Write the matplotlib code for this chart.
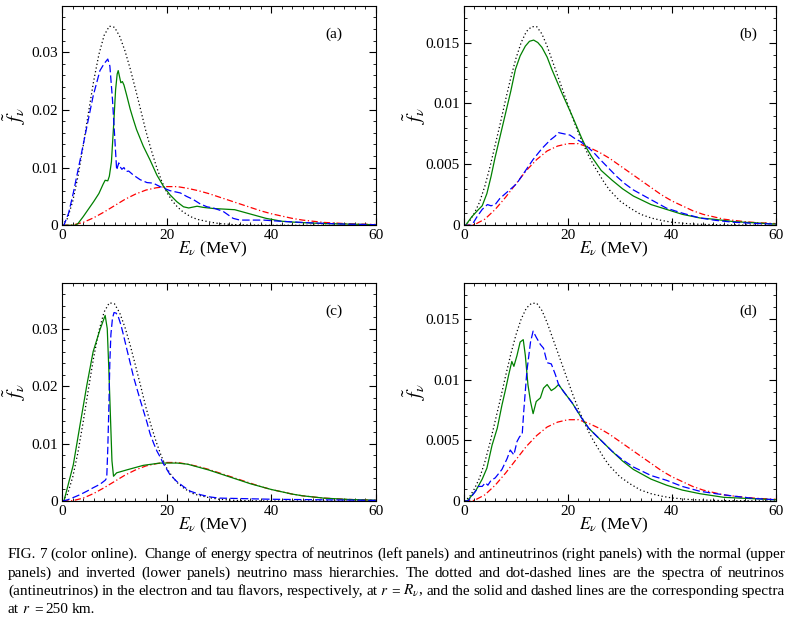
import numpy as np
import matplotlib
matplotlib.use("Agg")
import matplotlib.pyplot as plt
from matplotlib.ticker import MultipleLocator, FuncFormatter

# --- spectra (E in MeV, f~ per MeV) ---
# initial nu_e (left) and anti-nu_e (right) at r = R_nu : dotted
e_nue = [0, 1, 2, 3, 4, 5, 6, 7, 8, 9, 10, 11, 12, 13, 14, 15, 16, 17, 18, 19, 20,
         21, 22, 23, 24, 25, 26, 28, 30, 33, 36, 40, 60]
f_nue = [0, 0.0012, 0.0042, 0.0085, 0.0138, 0.0195, 0.0250, 0.0296, 0.0329, 0.0345,
         0.0343, 0.0327, 0.0302, 0.0271, 0.0236, 0.0200, 0.0163, 0.0131, 0.0102, 0.0077,
         0.0057, 0.0043, 0.0032, 0.0024, 0.0018, 0.0013, 0.0010, 0.0006, 0.0003, 0.0001,
         0.00004, 0, 0]
e_nuebar = [0, 1, 2, 3, 4, 5, 6, 7, 8, 9, 10, 11, 12, 13, 14, 15, 16, 17, 18, 19, 20,
            21, 22, 23, 24, 25, 26, 27, 28, 30, 32, 34, 36, 38, 40, 44, 50, 60]
f_nuebar = [0, 0.0003, 0.0010, 0.0019, 0.0032, 0.0048, 0.0066, 0.0084, 0.0103, 0.0121,
            0.0137, 0.0150, 0.0159, 0.0163, 0.0163, 0.0157, 0.0147, 0.0135, 0.0123, 0.0111,
            0.0099, 0.0087, 0.0076, 0.0066, 0.0057, 0.0049, 0.0042, 0.0035, 0.0029, 0.0020,
            0.0014, 0.0009, 0.0006, 0.0004, 0.00025, 0.0001, 0.00003, 0]
# tau flavour at r = R_nu : dot-dashed (same in all panels)
e_tau = [0, 2, 4, 6, 8, 10, 12, 14, 16, 18, 20, 22, 24, 26, 28, 30, 32, 34, 36, 38, 40,
         42, 44, 46, 48, 50, 52, 54, 56, 58, 60]
f_tau = [0, 0.00005, 0.0005, 0.0013, 0.0023, 0.0034, 0.0045, 0.0054, 0.0061, 0.0065,
         0.0067, 0.0067, 0.0064, 0.0060, 0.0055, 0.0049, 0.0043, 0.0037, 0.0031, 0.0025,
         0.0020, 0.0016, 0.0012, 0.0009, 0.0007, 0.0005, 0.0004, 0.0003, 0.00023,
         0.00018, 0.00014]

# (a) normal hierarchy, neutrinos, r = 250 km
e_a_sol = [0, 2.5, 3, 4, 5, 6, 7, 7.8, 8.2, 8.7, 9.0, 9.4, 9.8, 10.2, 10.5, 10.7, 11.2,
           11.5, 11.8, 12.3, 13.0, 13.6, 14.2, 15.5, 16.8, 18.1, 19.4, 20.6, 21.9, 23.2,
           24.2, 25.8, 27.0, 29, 31, 33, 35, 37, 39, 42, 45, 50, 55, 60]
f_a_sol = [0, 0, 0.0003, 0.0015, 0.0028, 0.0041, 0.0055, 0.0071, 0.0078, 0.0077, 0.0085,
           0.0110, 0.0170, 0.0235, 0.0262, 0.0268, 0.0247, 0.0249, 0.0243, 0.0226, 0.0201,
           0.0183, 0.0166, 0.0137, 0.0113, 0.0087, 0.0067, 0.0053, 0.0041, 0.0032, 0.0030,
           0.0033, 0.0031, 0.0029, 0.0028, 0.0027, 0.0022, 0.0017, 0.0012, 0.0007, 0.0005,
           0.0003, 0.0002, 0.0001]
e_a_dash = [0, 0.3, 1.2, 2.1, 3.4, 4.7, 5.9, 7.2, 8.0, 8.7, 9.1, 9.6, 10.1, 10.4, 10.8,
            11.1, 11.4, 11.8, 12.2, 12.7, 13.6, 14.9, 16.2, 17.4, 18.7, 20.6, 22.6, 23.8,
            25.0, 26.4, 27.7, 28.9, 30.8, 32.7, 34.0, 38.5, 41.7, 48, 54, 60]
f_a_dash = [0, 0, 0.0021, 0.0056, 0.0113, 0.0171, 0.0224, 0.0268, 0.0280, 0.0288, 0.0276,
            0.0218, 0.0142, 0.0096, 0.0108, 0.0101, 0.0097, 0.0100, 0.0093, 0.0094, 0.0087,
            0.0079, 0.0074, 0.0073, 0.0067, 0.0060, 0.0056, 0.0050, 0.0045, 0.0037, 0.0032,
            0.0030, 0.0024, 0.0012, 0.0009, 0.0009, 0.0007, 0.0004, 0.0002, 0.0001]

# (b) normal hierarchy, antineutrinos
e_b_sol = [0, 0.3, 1.5, 2.8, 3.5, 4.4, 5.2, 6.0, 7.0, 8.0, 9.0, 9.9, 10.8, 11.8, 12.6,
           13.4, 14.2, 15.0, 16.0, 16.9, 18.9, 20.8, 22.7, 23.5, 24.6, 26.4, 28.5, 30.5,
           32.6, 36, 39, 42, 45.4, 48, 51.9, 56, 60]
f_b_sol = [0, 0, 0.0007, 0.0013, 0.0016, 0.0026, 0.0040, 0.0056, 0.0074, 0.0092, 0.0110,
           0.0128, 0.0139, 0.0147, 0.0151, 0.0152, 0.0150, 0.0146, 0.0138, 0.0128, 0.0108,
           0.0090, 0.0071, 0.0064, 0.0056, 0.0045, 0.0037, 0.0030, 0.0024, 0.0017, 0.0013,
           0.0009, 0.0006, 0.0005, 0.0003, 0.0002, 0.0001]
e_b_dash = [0, 1.5, 2.5, 3.5, 4.5, 5.2, 6.0, 6.9, 8.5, 10.1, 11.7, 13.3, 15.0, 16.6, 17.5,
            18.2, 19.3, 20.4, 21.4, 22.3, 23.6, 24.9, 26.2, 27.8, 29.4, 31, 32.6, 36, 39,
            42, 45.4, 48.5, 51.9, 56, 60]
f_b_dash = [0, 0, 0.0007, 0.0013, 0.0017, 0.0016, 0.0017, 0.0022, 0.0028, 0.0034, 0.0044,
            0.0054, 0.0063, 0.0070, 0.0073, 0.0076, 0.0075, 0.0074, 0.0071, 0.0069, 0.0065,
            0.0060, 0.0054, 0.0047, 0.0040, 0.0034, 0.0029, 0.0021, 0.0014, 0.0010, 0.0006,
            0.0004, 0.00025, 0.00015, 0.0001]

# (c) inverted hierarchy, neutrinos
e_c_sol = [0, 0.3, 0.8, 2.1, 3.4, 4.7, 5.9, 7.2, 8.2, 8.6, 8.9, 9.2, 9.5, 9.8, 10.4, 12.3,
           15.5, 18.7, 20.6, 22, 24, 26, 28, 30, 32, 34, 36, 38, 40, 42, 44, 46, 48, 50,
           52, 54, 56, 58, 60]
f_c_sol = [0, 0, 0.0017, 0.0063, 0.0133, 0.0202, 0.0260, 0.0298, 0.0323, 0.0300, 0.0230,
           0.0150, 0.0070, 0.0043, 0.0049, 0.0054, 0.0062, 0.0066, 0.0066, 0.0066, 0.0064,
           0.0059, 0.0054, 0.0048, 0.0042, 0.0036, 0.0030, 0.0025, 0.0020, 0.0016, 0.0012,
           0.0009, 0.0007, 0.0005, 0.0004, 0.0003, 0.00023, 0.00018, 0.00014]
e_c_dash = [0, 1.0, 2.1, 3.4, 4.7, 5.9, 7.2, 8.2, 8.5, 8.7, 8.9, 9.1, 9.3, 9.6, 9.9, 10.3,
            10.7, 11.2, 11.7, 12.3, 13.0, 13.6, 14.2, 14.9, 15.5, 16.2, 16.8, 17.5, 18.1,
            18.7, 19.4, 20.0, 20.6, 21.9, 23.2, 24.5, 26.4, 28.3, 30, 35, 40, 50, 60]
f_c_dash = [0, 0.0002, 0.0006, 0.0011, 0.0017, 0.0023, 0.0029, 0.0036, 0.0040, 0.0090,
            0.0160, 0.0243, 0.0290, 0.0318, 0.0328, 0.0327, 0.0321, 0.0307, 0.0289, 0.0266,
            0.0240, 0.0217, 0.0198, 0.0176, 0.0158, 0.0137, 0.0117, 0.0100, 0.0087, 0.0077,
            0.0064, 0.0055, 0.0046, 0.0034, 0.0025, 0.0017, 0.0011, 0.0007, 0.0005, 0.0004,
            0.0003, 0.0002, 0.0001]

# (d) inverted hierarchy, antineutrinos
e_d_sol = [0, 0.6, 2.2, 3.5, 4.4, 5.4, 6.4, 7.3, 8.0, 8.6, 9.2, 9.6, 10.2, 10.8, 11.4,
           11.8, 12.3, 12.8, 13.3, 13.9, 14.7, 15.3, 16.0, 16.8, 17.5, 18.2, 19.2, 20.8,
           22.7, 24.0, 26.6, 28.5, 30.5, 32.6, 36, 39, 42, 45.4, 50, 55, 60]
f_d_sol = [0, 0, 0.0008, 0.0018, 0.0027, 0.0046, 0.0060, 0.0079, 0.0092, 0.0104, 0.0115,
           0.0111, 0.0120, 0.0131, 0.0133, 0.0120, 0.0096, 0.0082, 0.0072, 0.0082, 0.0085,
           0.0093, 0.0096, 0.0091, 0.0093, 0.0096, 0.0090, 0.0081, 0.0068, 0.0060, 0.0049,
           0.0041, 0.0033, 0.0026, 0.0018, 0.0013, 0.0009, 0.0006, 0.0003, 0.0002, 0.0001]
e_d_dash = [0, 0.8, 2.2, 2.8, 3.5, 4.1, 4.6, 5.2, 6.0, 7.3, 8.3, 8.9, 9.6, 10.2, 10.7,
            11.2, 11.5, 12.1, 12.8, 13.3, 13.9, 14.7, 15.3, 16.0, 16.8, 17.6, 18.2, 19.2,
            20.8, 22.7, 24.0, 26.6, 28.5, 30.5, 32.6, 36, 39, 42, 45.4, 48.5, 51.9, 56, 60]
f_d_dash = [0, 0, 0.0008, 0.0012, 0.0012, 0.0015, 0.0013, 0.0017, 0.0019, 0.0026, 0.0035,
            0.0042, 0.0038, 0.0049, 0.0053, 0.0055, 0.0074, 0.0107, 0.0131, 0.0140, 0.0135,
            0.0129, 0.0126, 0.0114, 0.0113, 0.0104, 0.0096, 0.0090, 0.0081, 0.0068, 0.0060,
            0.0049, 0.0041, 0.0034, 0.0028, 0.0021, 0.0017, 0.0012, 0.0008, 0.0006, 0.0004,
            0.0002, 0.0001]

caption = [
    "FIG. 7 (color online).  Change of energy spectra of neutrinos (left panels) and antineutrinos (right panels) with the normal (upper",
    "panels) and inverted (lower panels) neutrino mass hierarchies. The dotted and dot-dashed lines are the spectra of neutrinos",
    "(antineutrinos) in the electron and tau flavors, respectively, at $r$ = $R_\\nu$, and the solid and dashed lines are the corresponding spectra",
    "at $r$ = 250 km.",
]

plt.rcParams["font.family"] = ["Liberation Serif", "DejaVu Serif"]
plt.rcParams["mathtext.fontset"] = "stix"

W, H = 794, 627
fig = plt.figure(figsize=(W / 100, H / 100), dpi=100)


def panel(rect, ymax, ymaj, ymin, tag, tagx, ylx, ed, fd, es, fs, eb, fb):
    ax = fig.add_axes(rect)
    ax.plot(ed, fd, color="black", lw=0.9, ls=(0, (1, 2)))
    ax.plot(e_tau, f_tau, color="red", lw=0.9, ls=(0, (5, 2, 1, 2)))
    ax.plot(es, fs, color="green", lw=0.9)
    ax.plot(eb, fb, color="blue", lw=0.9, ls=(0, (6, 2.5)))
    ax.set_xlim(0, 60)
    ax.set_ylim(0, ymax)
    ax.xaxis.set_major_locator(MultipleLocator(20))
    ax.xaxis.set_minor_locator(MultipleLocator(2))
    ax.yaxis.set_major_locator(MultipleLocator(ymaj))
    ax.yaxis.set_minor_locator(MultipleLocator(ymin))
    ax.yaxis.set_major_formatter(FuncFormatter(lambda v, p: "%g" % round(v, 4)))
    ax.tick_params(which="both", direction="in", top=True, right=True,
                   labelsize=11, pad=3)
    ax.tick_params(which="major", length=5, width=0.8)
    ax.tick_params(which="minor", length=2.5, width=0.6)
    for s in ax.spines.values():
        s.set_linewidth(0.8)
    ax.set_xlabel(r"$E_{\nu}$ (MeV)", fontsize=12.5)
    ax.xaxis.set_label_coords(0.48, -0.068)
    ax.set_ylabel(r"$\tilde{f}_{\nu}$", fontsize=14.5)
    ax.yaxis.set_label_coords(ylx, 0.5)
    ax.text(tagx, 0.87, tag, transform=ax.transAxes, ha="center", va="center",
            fontsize=11)
    return ax


panel([0.0785, 0.6407, 0.3947, 0.3498], 0.038, 0.01, 0.002, "(a)", 0.866, -0.108,
      e_nue, f_nue, e_a_sol, f_a_sol, e_a_dash, f_a_dash)
panel([0.5844, 0.6407, 0.3926, 0.3498], 0.018, 0.005, 0.001, "(b)", 0.912, -0.115,
      e_nuebar, f_nuebar, e_b_sol, f_b_sol, e_b_dash, f_b_dash)
panel([0.0785, 0.2010, 0.3947, 0.3482], 0.038, 0.01, 0.002, "(c)", 0.866, -0.108,
      e_nue, f_nue, e_c_sol, f_c_sol, e_c_dash, f_c_dash)
panel([0.5844, 0.2010, 0.3926, 0.3482], 0.018, 0.005, 0.001, "(d)", 0.912, -0.115,
      e_nuebar, f_nuebar, e_d_sol, f_d_sol, e_d_dash, f_d_dash)

# justified caption (a double space gives a double gap)
r = fig.canvas.get_renderer()
x0, x1 = 8, 785
base = [558, 577, 595, 613]
for i, line in enumerate(caption):
    words = line.split(" ")
    ts = [fig.text(0, 1 - base[i] / H, w, fontsize=11, va="baseline") if w else None
          for w in words]
    wd = [t.get_window_extent(r).width if t else 0 for t in ts]
    if i < len(caption) - 1:
        gap = (x1 - x0 - sum(wd)) / (len(ts) - 1)
    else:
        gap = 3.3
    x = x0
    for t, w in zip(ts, wd):
        if t:
            t.set_x(x / W)
        x += w + gap

fig.savefig("out.png", dpi=100)
